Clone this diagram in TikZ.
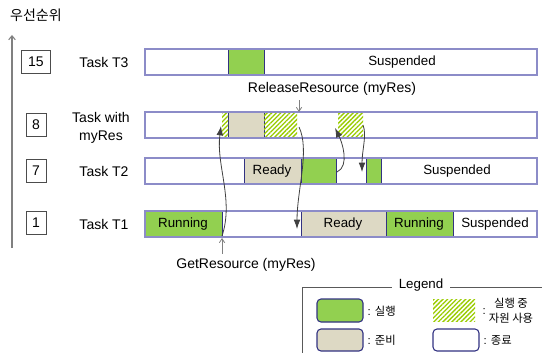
\documentclass[tikz,border=0pt]{standalone}
\usepackage{fontspec}
\setmainfont{Liberation Sans}
\newfontfamily\kr{Noto Sans CJK KR}
\usetikzlibrary{arrows.meta,patterns.meta}
\definecolor{runcol}{RGB}{146,208,80}
\definecolor{readycol}{RGB}{221,217,196}
\definecolor{hatchcol}{RGB}{154,204,0}
\definecolor{barline}{RGB}{140,140,200}
\definecolor{segline}{RGB}{50,50,130}
\definecolor{arrcol}{RGB}{64,64,64}

\begin{document}
\begin{tikzpicture}[x=0.75pt, y=-0.75pt, every node/.style={font=\fontsize{10.5}{13.5}\selectfont}]
    \tikzstyle{prio}=[draw=black!70, line width=0.7pt, minimum height=17pt, inner sep=0pt]
    \tikzstyle{bar}=[draw=barline, line width=1pt]
    \tikzstyle{seg}=[draw=segline, line width=0.7pt]
    \tikzstyle{hatch}=[pattern={Lines[angle=45, distance=2.4pt, line width=1pt]}, pattern color=hatchcol]
    \tikzstyle{seglbl}=[font=\fontsize{10}{12}\selectfont]
    \tikzstyle{curvarr}=[arrcol, line width=0.6pt, -{Latex[length=7pt, width=5pt]}]
    \tikzstyle{callarr}=[gray, line width=0.6pt, -{Straight Barb[length=3pt, width=4pt]}]
    \tikzstyle{legbox}=[draw=segline, line width=0.8pt, rounded corners=3pt]
    \tikzstyle{legtxt}=[font=\fontsize{8.5}{11}\selectfont, inner sep=1pt]

    \useasboundingbox (0,0) rectangle (542,353);

    % priority axis
    \node (prlabel) at (36,15) {\kr 우선순위};
    \coordinate (axbot) at (12,248);
    \coordinate (axtop) at (12,35);
    \draw[gray, line width=0.8pt, -{Straight Barb[length=3pt, width=5pt]}] (axbot) -- (axtop);

    \foreach \n/\y/\w in {15/62/22pt, 8/125/15pt, 7/171/15pt, 1/223/15pt} {
        \node[prio, minimum width=\w] (p\n) at (36,\y) {\n};
    }

    % task names
    \node (t3) at (104,62) {Task T3};
    \node[align=center] (tres) at (101,128) {Task with\\myRes};
    \node (t2) at (104,171) {Task T2};
    \node (t1) at (104,224) {Task T1};

    % time bars
    \foreach \y in {62, 125, 171, 224} {
        \fill[white] (145,\y-13) rectangle (537,\y+13);
    }
    \foreach \a/\b/\y/\c in {228/264/62/runcol, 228/264/125/readycol, 244/301/171/readycol,
                             301/336/171/runcol, 366/381/171/runcol, 145/222/224/runcol,
                             301/386/224/readycol, 386/453/224/runcol} {
        \filldraw[seg, fill=\c] (\a,\y-13) rectangle (\b,\y+13);
    }
    \foreach \a/\b in {222/228, 264/297, 338/363} {
        \fill[hatch] (\a,112) rectangle (\b,138);
    }
    \foreach \y in {62, 125, 171, 224} {
        \draw[bar] (145,\y-13) rectangle (537,\y+13);
    }

    { \fontsize{10}{12}\selectfont
        \node[seglbl] (t3susp) at (402,62) {Suspended};
        \node[seglbl] (t2ready) at (272,171) {Ready};
        \node[seglbl] (t2susp) at (457,171) {Suspended};
        \foreach \x/\t/\m in {183/Running/run, 343/Ready/ready, 419/Running/runb, 495/Suspended/susp} {
            \node[seglbl] (t1\m) at (\x,224) {\t};
        }
    }

    % service calls
    \node (rel) at (332,89) {ReleaseResource (myRes)};
    \coordinate (relend) at (299,112);
    \draw[callarr] (rel.south -| relend) -- (relend);
    \node (get) at (246,265) {GetResource (myRes)};
    \coordinate (getend) at (222,238);
    \draw[callarr] (get.north -| getend) -- (getend);

    % task switches
    \coordinate (s1a) at (222,236); \coordinate (s1b) at (221,126);
    \coordinate (s2a) at (299,127); \coordinate (s2b) at (297,229);
    \coordinate (s3a) at (337,172); \coordinate (s3b) at (335,128);
    \coordinate (s4a) at (363,125); \coordinate (s4b) at (362,172);
    \draw[curvarr] (s1a) .. controls (234,200) and (216,165) .. (s1b);
    \draw[curvarr] (s2a) .. controls (310,150) and (297,190) .. (s2b);
    \draw[curvarr] (s3a) .. controls (350,166) and (342,142) .. (s3b);
    \draw[curvarr] (s4a) .. controls (367,135) and (362,150) .. (s4b);

    % legend
    \draw[gray!70!black, line width=0.7pt] (542,287) -| (302,353);
    \node[fill=white, inner xsep=5pt, font=\fontsize{10}{12}\selectfont] (leg) at (421,285) {Legend};
    \filldraw[legbox, fill=runcol] (317,299) rectangle (363,322);
    \filldraw[legbox, fill=readycol] (317,329) rectangle (363,351);
    \fill[hatch] (433,299) rectangle (475,321);
    \filldraw[legbox, fill=white] (433,329) rectangle (479,351);
    \node[legtxt, anchor=west] (lrun) at (366,311) {: \kr 실행};
    \node[legtxt, anchor=west] (lready) at (366,340) {: \kr 준비};
    \node[legtxt, anchor=west] (lcolon) at (481,312) {:};
    \node[legtxt, align=center] (lres) at (511,311) {\kr 실행 중\\\kr 자원 사용};
    \node[legtxt, anchor=west] (lsusp) at (482,340) {: \kr 종료};
\end{tikzpicture}
\end{document}
